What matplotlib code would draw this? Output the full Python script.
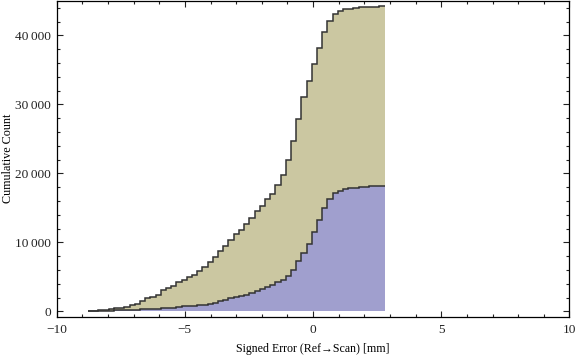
import numpy as np
import matplotlib
matplotlib.use("Agg")
import matplotlib.pyplot as plt
from matplotlib.ticker import MultipleLocator, FuncFormatter

plt.rcParams['font.family'] = ['Liberation Serif', 'DejaVu Serif']

# histogram bins
bin_start = -8.78
bin_width = 0.203

# cumulative counts, lower (blue) part and stacked total (top of tan part)
blue_cum = [0, 0, 0, 0, 0, 145, 145, 145, 145, 145,
            290, 290, 290, 290, 435, 435, 435, 623, 725, 725,
            812, 957, 957, 1101, 1246, 1449, 1681, 1928, 2116, 2261,
            2406, 2652, 3014, 3232, 3522, 3768, 4203, 4493, 5072, 5986,
            7290, 8406, 9710, 11464, 13304, 15043, 16232, 17101, 17478, 17696,
            17826, 17826, 17971, 17971, 18130, 18130, 18130]
total_cum = [30, 60, 145, 180, 333, 478, 500, 623, 870, 1058,
             1449, 1884, 2072, 2406, 3043, 3333, 3710, 4203, 4580, 4928,
             5304, 5884, 6377, 7101, 7870, 8696, 9507, 10333, 11159, 11739,
             12609, 13565, 14522, 15333, 16232, 17043, 18261, 19797, 21884, 24638,
             27826, 31014, 33348, 35812, 38116, 40435, 42029, 43159, 43478, 43768,
             43800, 44000, 44058, 44130, 44145, 44174, 44217]

blue_cum = np.array(blue_cum, dtype=float)
total_cum = np.array(total_cum, dtype=float)
edges = bin_start + bin_width * np.arange(len(total_cum) + 1)

fig = plt.figure(figsize=(5.76, 3.57), dpi=100)
ax = fig.add_axes([0.0984, 0.1129, 0.8903, 0.8855])

tan = "#cbc7a1"
blue = "#a09fce"
edge = "#333333"

ax.stairs(blue_cum, edges, baseline=0, fill=True, color=blue, lw=0)
ax.stairs(total_cum, edges, baseline=blue_cum, fill=True, color=tan, lw=0)
ax.stairs(blue_cum, edges, baseline=None, color=edge, lw=1.1)
ax.stairs(total_cum, edges, baseline=None, color=edge, lw=1.1)

ax.set_xlim(-10, 10)
ax.set_ylim(-780, 45040)

ax.xaxis.set_major_locator(MultipleLocator(5))
ax.xaxis.set_minor_locator(MultipleLocator(1))
ax.yaxis.set_major_locator(MultipleLocator(10000))
ax.yaxis.set_minor_locator(MultipleLocator(2000))
ax.yaxis.set_major_formatter(FuncFormatter(
    lambda v, p: "{:,}".format(int(v)).replace(",", "\u2009")))
ax.xaxis.set_major_formatter(FuncFormatter(
    lambda v, p: "\u2212" + str(int(-v)) if v < 0 else str(int(v))))

ax.tick_params(which="both", direction="in", top=True, right=True,
               labelsize=9.6, colors="#222222", width=0.8)
ax.tick_params(which="major", length=4.5, pad=4)
ax.tick_params(which="minor", length=2.5)
ax.tick_params(axis="x", pad=5)

for s in ax.spines.values():
    s.set_linewidth(0.9)

ax.set_xlabel("Signed Error (Ref\u2192Scan) [mm]", fontsize=8.6, labelpad=5)
ax.set_ylabel("Cumulative Count", fontsize=8.7)
ax.yaxis.set_label_coords(-0.083, 0.5)

fig.savefig("out.png", dpi=100)
